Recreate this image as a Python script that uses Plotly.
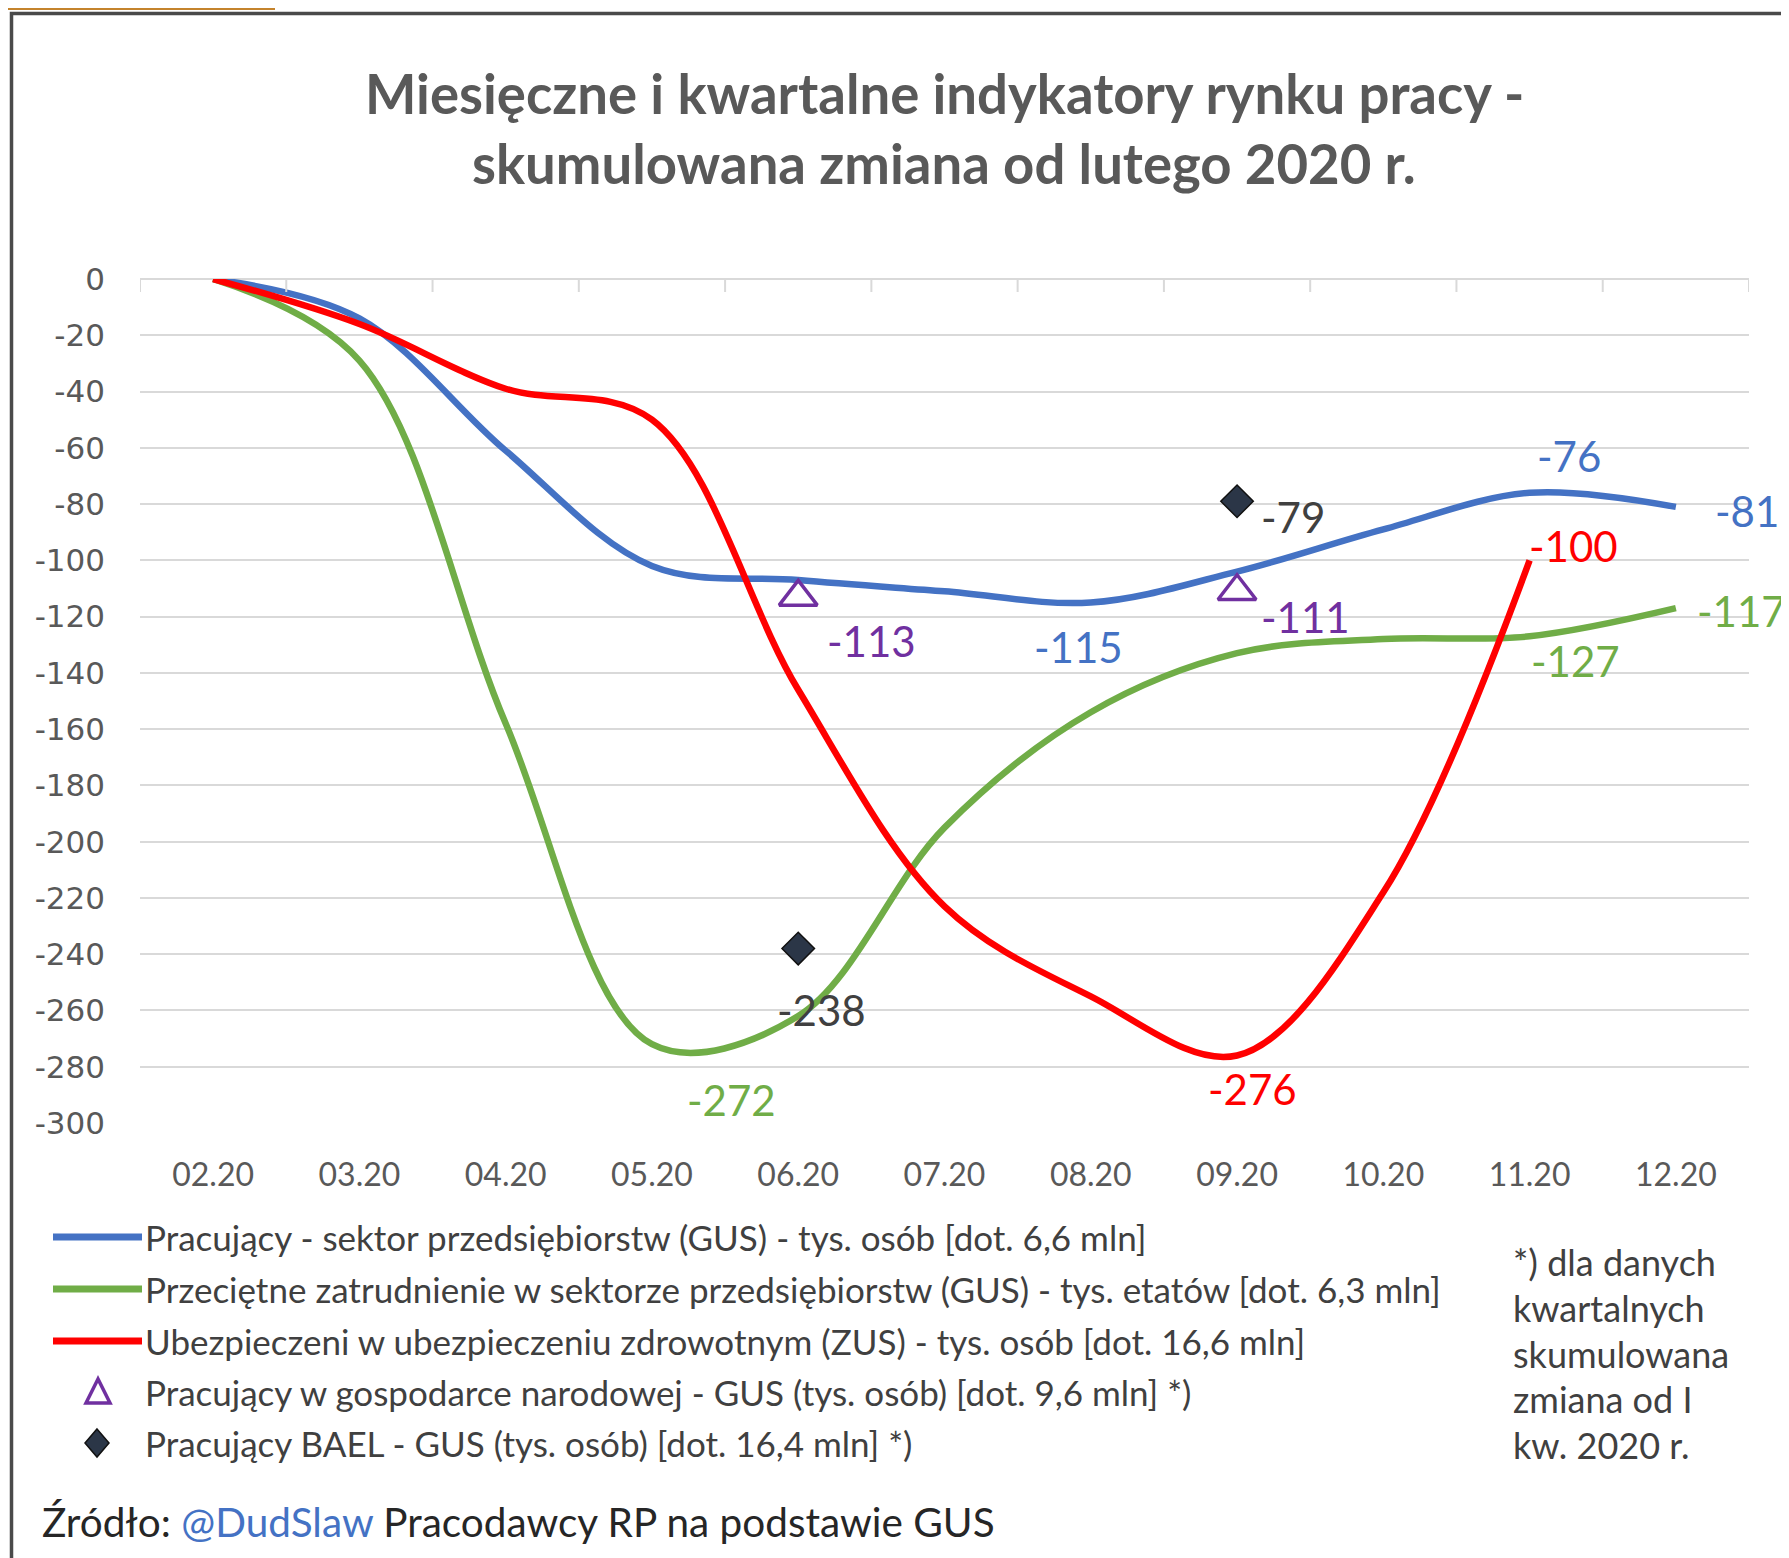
import plotly.graph_objects as go

W, H = 1789, 1558
OFF = 8  # margines strony html
ML, MT = 140 - OFF, 279 - OFF
PW, PH = 1609, 844
MR = W - ML - PW
MB = H - MT - PH

# dane
months = ["02.20", "03.20", "04.20", "05.20", "06.20", "07.20",
          "08.20", "09.20", "10.20", "11.20", "12.20"]
pracujacy_przeds = [0, -14, -61, -102, -107, -111, -115, -104, -89, -76, -81]
zatrudnienie = [0, -29, -158, -272, -262, -195, -154, -133, -128, -127, -117]
ubezpieczeni = [0, -16, -39, -50, -146, -223, -255, -276, -218, -100, None]
q_months = ["06.20", "09.20"]
gosp_narodowa = [-113, -111]
bael = [-238, -79]
y_ticks = [0, -20, -40, -60, -80, -100, -120, -140, -160, -180, -200,
           -220, -240, -260, -280, -300]

names = [
    "Pracujący - sektor przedsiębiorstw (GUS) - tys. osób [dot. 6,6 mln]",
    "Przeciętne zatrudnienie w sektorze przedsiębiorstw (GUS) - tys. etatów [dot. 6,3 mln]",
    "Ubezpieczeni w ubezpieczeniu zdrowotnym (ZUS) - tys. osób [dot. 16,6 mln]",
    "Pracujący w gospodarce narodowej - GUS (tys. osób) [dot. 9,6 mln] *)",
    "Pracujący BAEL - GUS (tys. osób) [dot. 16,4 mln] *)",
]
title_lines = ["Miesięczne i kwartalne indykatory rynku pracy -",
               "skumulowana zmiana od lutego 2020 r."]
note_lines = ["*) dla danych", "kwartalnych", "skumulowana", "zmiana od I", "kw. 2020 r."]

BLUE, GREEN, RED = "#4472C4", "#70AD47", "#FF0000"
PURPLE, DARK = "#7030A0", "#2B3647"
FONT = "Lato"


def xp(px):
    return (px - OFF - ML) / PW


def yp(py):
    return 1 - (py - OFF - MT) / PH


fig = go.Figure()
for vals, col in [(pracujacy_przeds, BLUE), (zatrudnienie, GREEN), (ubezpieczeni, RED)]:
    fig.add_trace(go.Scatter(x=months, y=vals, mode="lines",
                             line=dict(color=col, width=6.5, shape="spline", smoothing=1.0),
                             showlegend=False))
fig.add_trace(go.Scatter(x=q_months, y=gosp_narodowa, mode="markers",
                         marker=dict(symbol="triangle-up-open", size=33, color=PURPLE,
                                     line=dict(width=3.5, color=PURPLE)),
                         showlegend=False))
fig.add_trace(go.Scatter(x=q_months, y=bael, mode="markers",
                         marker=dict(symbol="diamond", size=25, color=DARK,
                                     line=dict(width=1.5, color="#111111")),
                         showlegend=False))

# etykiety danych: (seria, kategorie, indeks, kolor, xanchor, xshift, yshift)
label_specs = [
    (pracujacy_przeds, months, 6, BLUE, "center", -12, -44),
    (pracujacy_przeds, months, 9, BLUE, "center", 39, 37),
    (pracujacy_przeds, months, 10, BLUE, "left", 37, -4),
    (zatrudnienie, months, 3, GREEN, "center", 80, -56),
    (zatrudnienie, months, 9, GREEN, "center", 46, -25),
    (zatrudnienie, months, 10, GREEN, "left", 19, -3),
    (ubezpieczeni, months, 7, RED, "center", 15, -34),
    (ubezpieczeni, months, 9, RED, "left", -3, 14),
    (gosp_narodowa, q_months, 0, PURPLE, "left", 27, -44),
    (gosp_narodowa, q_months, 1, PURPLE, "left", 22, -26),
    (bael, q_months, 0, "#404040", "center", 23, -61),
    (bael, q_months, 1, "#404040", "left", 22, -16),
]
for vals, xs, i, col, xa, dx, dy in label_specs:
    fig.add_annotation(x=months.index(xs[i]), y=vals[i], text=str(vals[i]), showarrow=False,
                       xanchor=xa, yanchor="middle", xshift=dx, yshift=dy,
                       font=dict(family=FONT, size=42, color=col))

# tytul
for k, line in enumerate(title_lines):
    fig.add_annotation(x=xp(944), y=yp(93 + 70 * k), xref="paper", yref="paper",
                       text=line, showarrow=False, xanchor="center", yanchor="middle",
                       font=dict(family=FONT, size=54.5, color="#595959", weight="bold"))

shapes = []
# znaczniki osi X (na linii 0)
for k in range(len(months) + 1):
    shapes.append(dict(type="line", xref="x", yref="paper", x0=k - 0.5, x1=k - 0.5,
                       y0=1, y1=1 - 13 / PH, line=dict(color="#D9D9D9", width=2)))

# legenda
rows = [1237, 1289, 1341, 1392, 1443]
for k, col in enumerate([BLUE, GREEN, RED]):
    shapes.append(dict(type="line", xref="paper", yref="paper", x0=xp(53), x1=xp(142),
                       y0=yp(rows[k]), y1=yp(rows[k]), line=dict(color=col, width=7)))
r = rows[3]
shapes.append(dict(type="path", xref="paper", yref="paper",
                   path=f"M{xp(98)},{yp(r - 13)} L{xp(86)},{yp(r + 11)} L{xp(110)},{yp(r + 11)} Z",
                   line=dict(color=PURPLE, width=3.5)))
r = rows[4]
shapes.append(dict(type="path", xref="paper", yref="paper",
                   path=f"M{xp(97)},{yp(r - 14)} L{xp(109)},{yp(r)} L{xp(97)},{yp(r + 14)} L{xp(85)},{yp(r)} Z",
                   fillcolor=DARK, line=dict(color="#111111", width=1.5)))
for k, nm in enumerate(names):
    fig.add_annotation(x=xp(143), y=yp(rows[k]), xref="paper", yref="paper", text=nm,
                       showarrow=False, xanchor="left", yanchor="middle",
                       font=dict(family=FONT, size=35, color="#404040"))

# przypis
for k, line in enumerate(note_lines):
    fig.add_annotation(x=xp(1511), y=yp(1262 + 45.8 * k), xref="paper", yref="paper",
                       text=line, showarrow=False, xanchor="left", yanchor="middle",
                       font=dict(family=FONT, size=36, color="#404040"))

# zrodlo
fig.add_annotation(x=xp(40), y=yp(1521), xref="paper", yref="paper",
                   text="Źródło: <span style='color:#4472C4'>@DudSlaw</span> Pracodawcy RP na podstawie GUS",
                   showarrow=False, xanchor="left", yanchor="middle",
                   font=dict(family=FONT, size=40.5, color="#262626"))

# ramka i pasek u gory
shapes.append(dict(type="rect", xref="paper", yref="paper", x0=xp(11.5), x1=xp(W + 30),
                   y0=yp(13.5), y1=yp(H + 30), line=dict(color="#4A4A4A", width=3.5)))
shapes.append(dict(type="rect", xref="paper", yref="paper", x0=xp(0), x1=xp(275),
                   y0=yp(2), y1=yp(10), fillcolor="#C4832C", line=dict(width=0)))
shapes.append(dict(type="path", xref="paper", yref="paper",
                   path=f"M{xp(92)},{yp(0)} L{xp(102)},{yp(0)} L{xp(98)},{yp(6)} L{xp(88)},{yp(6)} Z",
                   fillcolor="#C4832C", line=dict(width=0)))

fig.update_layout(
    width=W, height=H,
    margin=dict(l=ML, r=MR, t=MT, b=MB),
    paper_bgcolor="white", plot_bgcolor="white",
    showlegend=False,
    shapes=shapes,
    xaxis=dict(type="category", range=[-0.5, len(months) - 0.5], showgrid=False,
               zeroline=False, showline=False, ticks="",
               tickfont=dict(family=FONT, size=32, color="#595959"),
               ticklabelstandoff=30),
    yaxis=dict(range=[-300, 0], tickvals=y_ticks, ticktext=[str(v) for v in y_ticks],
               showgrid=True, gridcolor="#D9D9D9", gridwidth=2,
               zeroline=True, zerolinecolor="#D9D9D9", zerolinewidth=2,
               showline=False, ticks="",
               tickfont=dict(family="DejaVu Sans", size=31, color="#595959"),
               ticklabelstandoff=34),
)

fig.write_html("out.html")
